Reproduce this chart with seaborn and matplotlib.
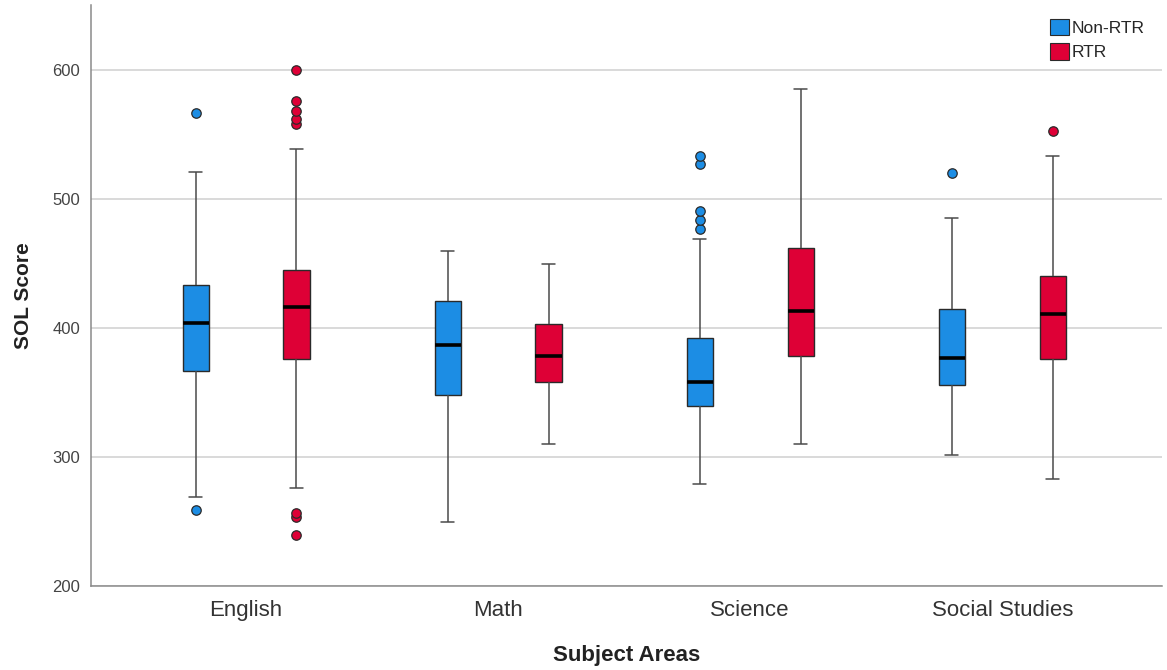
import matplotlib
matplotlib.use("Agg")
import matplotlib.pyplot as plt
from matplotlib.patches import Patch
import pandas as pd
import seaborn as sns

subjects = ["English", "Math", "Science", "Social Studies"]
groups = ["Non-RTR", "RTR"]

# Five-number summaries per subject: lower whisker, Q1, median, Q3, upper whisker
non_rtr_summary = [
    [269, 367, 404, 433, 521],
    [250, 348, 387, 421, 460],
    [279, 340, 358, 392, 469],
    [302, 356, 377, 415, 485],
]
rtr_summary = [
    [276, 376, 416, 445, 539],
    [310, 358, 378, 403, 450],
    [310, 378, 413, 462, 585],
    [283, 376, 411, 440, 533],
]

# Scores lying beyond the whiskers
non_rtr_outliers = [
    [259, 567],
    [],
    [477, 484, 491, 527, 533],
    [520],
]
rtr_outliers = [
    [240, 254, 257, 558, 562, 568, 576, 600],
    [],
    [],
    [553],
]

colors = {"Non-RTR": "#1C8DE4", "RTR": "#DE0036"}


def score_sample(summary, outliers):
    """Score list whose quartiles and whisker ends equal the summary."""
    lo_w, q1, med, q3, hi_w = summary
    lo = [v for v in outliers if v < q1]
    hi = [v for v in outliers if v > q3]
    j = max(len(lo), len(hi)) + 1
    return (lo + [lo_w] * (j - len(lo)) + [q1] * j + [med]
            + [q3] * j + [hi_w] * (j - len(hi)) + hi)


rows = []
for g, summaries, outs in [("Non-RTR", non_rtr_summary, non_rtr_outliers),
                           ("RTR", rtr_summary, rtr_outliers)]:
    for subj, summ, out in zip(subjects, summaries, outs):
        for v in score_sample(summ, out):
            rows.append({"Subject": subj, "Group": g, "Score": v})
df = pd.DataFrame(rows)

sns.set_style("white")
plt.rcParams["font.family"] = ["Liberation Sans", "DejaVu Sans"]

fig = plt.figure(figsize=(11.67, 6.70), dpi=100)
ax = fig.add_axes([0.078, 0.125, 0.918, 0.867])

for g in groups:
    sns.boxplot(
        data=df[df["Group"] == g], x="Subject", y="Score",
        hue="Group", hue_order=groups, order=subjects,
        palette=colors, saturation=1, width=0.8, gap=0.74, dodge=True,
        linewidth=1.0, linecolor="#2a2a2a",
        medianprops=dict(color="black", linewidth=2.6),
        whiskerprops=dict(color="#4a4a4a", linewidth=1.1),
        capprops=dict(color="#4a4a4a", linewidth=1.1),
        flierprops=dict(marker="o", markersize=6.8, markerfacecolor=colors[g],
                        markeredgecolor="#2a2a2a", markeredgewidth=0.9),
        legend=False, ax=ax, zorder=3,
    )

ax.set_ylim(200, 650)
ax.set_xlim(-0.615, 3.635)
ax.set_yticks([200, 300, 400, 500, 600])
ax.yaxis.grid(True, color="#cfcfcf", linewidth=1.1, zorder=0)
ax.xaxis.grid(False)
ax.set_axisbelow(True)

for side in ["top", "right"]:
    ax.spines[side].set_visible(False)
for side in ["left", "bottom"]:
    ax.spines[side].set_color("#8a8a8a")
    ax.spines[side].set_linewidth(1.1)

ax.tick_params(axis="y", length=0, pad=8, labelsize=12, labelcolor="#444444")
ax.tick_params(axis="x", length=0, pad=10, labelsize=16, labelcolor="#333333")

ax.set_xlabel("Subject Areas", fontsize=16, fontweight="bold", labelpad=17,
              color="#222222")
ax.set_ylabel("SOL Score", fontsize=15, fontweight="bold", labelpad=14,
              color="#222222")

handles = [Patch(facecolor=colors[g], edgecolor="#2a2a2a", linewidth=0.8, label=g)
           for g in groups]
ax.legend(handles=handles, loc="upper right", bbox_to_anchor=(0.993, 0.995),
          frameon=False, fontsize=12.5, handlelength=1.1, handleheight=1.1,
          handletextpad=0.15, labelspacing=0.4, borderaxespad=0.2)

fig.savefig("out.png", dpi=100, facecolor="white")
